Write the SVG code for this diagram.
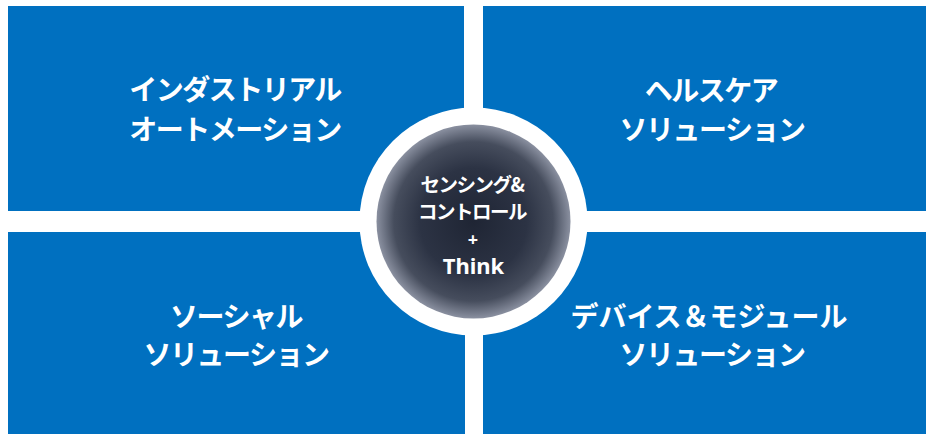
<svg xmlns="http://www.w3.org/2000/svg" width="926" height="434" viewBox="0 0 926 434">
<defs>
<radialGradient id="dark" cx="50%" cy="50%" r="50%">
<stop offset="0" stop-color="#1f2534"/>
<stop offset="0.55" stop-color="#2c3344"/>
<stop offset="0.82" stop-color="#464d5d"/>
<stop offset="1" stop-color="#8a90a0"/>
</radialGradient>
<style>
.q{fill:#0070C0}
.t{fill:#ffffff;font-family:"Noto Sans CJK JP","Noto Sans",sans-serif;font-weight:bold;font-size:28px;text-anchor:middle;letter-spacing:-1.5px}
.c{fill:#ffffff;font-family:"Noto Sans CJK JP","Noto Sans",sans-serif;font-weight:bold;font-size:19.5px;text-anchor:middle;letter-spacing:-1.5px}
.k{fill:#ffffff;font-family:"Noto Sans","Noto Sans CJK JP",sans-serif;font-weight:bold;font-size:22px;text-anchor:middle}
</style>
</defs>
<rect width="926" height="434" fill="#ffffff"/>
<g id="industrial">
<rect class="q" x="8" y="6" width="456" height="205"/>
<text class="t" x="235" y="100">インダストリアル</text>
<text class="t" x="235" y="140">オートメーション</text>
</g>
<g id="healthcare">
<rect class="q" x="483" y="6" width="443" height="205"/>
<text class="t" x="711" y="101">ヘルスケア</text>
<text class="t" x="712" y="140">ソリューション</text>
</g>
<g id="social">
<rect class="q" x="8" y="232" width="457" height="202"/>
<text class="t" x="236" y="327">ソーシャル</text>
<text class="t" x="236" y="365">ソリューション</text>
</g>
<g id="device">
<rect class="q" x="483" y="232" width="443" height="202"/>
<text class="t" x="709" y="327" style="letter-spacing:0px">デバイス＆モジュール</text>
<text class="t" x="712" y="365">ソリューション</text>
</g>
<g id="connectors"></g>
<g id="center">
<circle cx="473.5" cy="221.5" r="114" fill="#ffffff"/>
<circle cx="473.5" cy="221.5" r="97" fill="url(#dark)"/>
<text class="c" x="472" y="192">センシング&amp;</text>
<text class="c" x="472" y="219">コントロール</text>
<text class="k" x="473" y="246" style="font-size:18px">+</text>
<text class="k" x="473.5" y="274">Think</text>
</g>
</svg>
